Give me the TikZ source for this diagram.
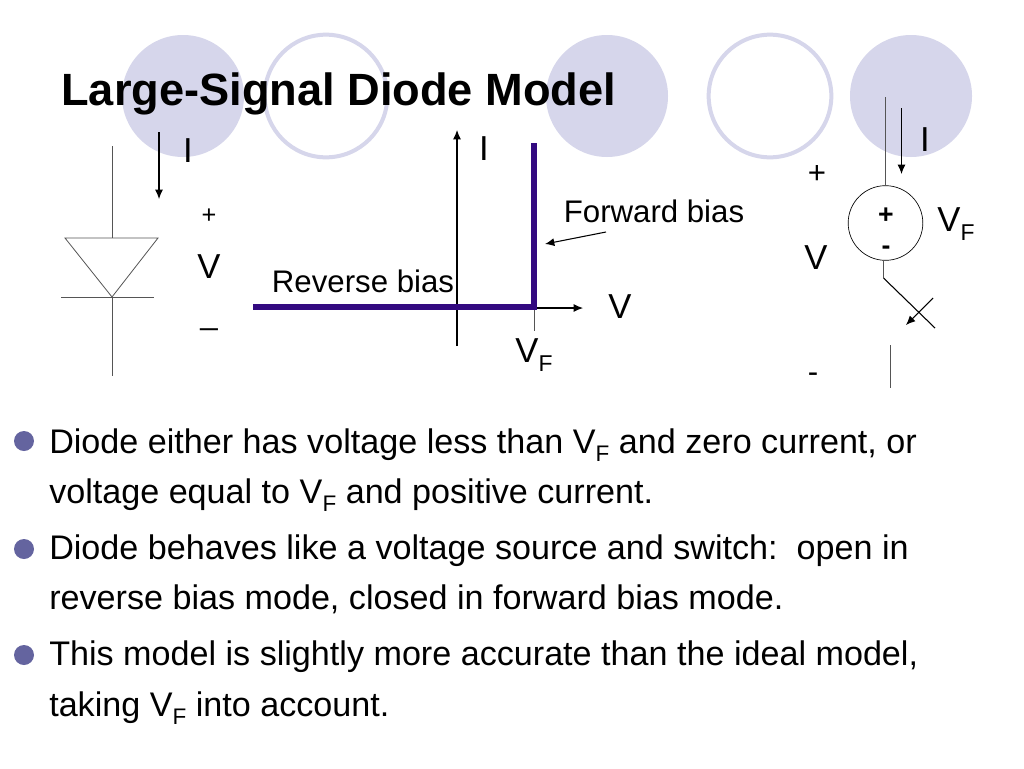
\documentclass[tikz,border=0pt]{standalone}
\usepackage{fontspec}
\setmainfont{Liberation Sans}
\usetikzlibrary{arrows.meta}
\definecolor{discfill}{HTML}{D6D6EB}
\definecolor{curvecol}{HTML}{330A80}
\definecolor{dotcol}{HTML}{64649F}
\definecolor{wirecol}{HTML}{555555}
\newcommand{\vfsub}{V\raisebox{-0.25em}{\fontsize{0.66em}{0.66em}\selectfont F}}
\tikzset{>={Latex[length=7pt,width=6pt]},
         disc/.style = {circle, fill=discfill, minimum size=91.5pt, inner sep=0pt},
         ring/.style = {circle, draw=discfill, line width=3pt, minimum size=92pt, inner sep=0pt},
         dot/.style = {circle, fill=dotcol, minimum size=15pt, inner sep=0pt},
         wire/.style = {wirecol, line width=0.6pt},
         blackwire/.style = {black, line width=0.8pt},
         sym/.style = {inner sep=0pt, font=\fontsize{26}{26}\selectfont},
         small/.style = {inner sep=0pt, font=\fontsize{23.4}{23.4}\selectfont},
         tiny/.style = {inner sep=0pt, font=\fontsize{19}{19}\selectfont},
         body/.style = {inner sep=0pt, anchor=base west, font=\fontsize{25.6}{25.6}\selectfont}}
\begin{document}
\begin{tikzpicture}[x=0.75pt, y=-0.75pt]
    \useasboundingbox [fill=white] (0, 0) rectangle (1024, 768);

    % background discs
    \node [disc] (discA) at (183, 96) {};
    \node [ring] (ringA) at (326, 96) {};
    \node [disc] (discB) at (607, 96) {};
    \node [ring] (ringB) at (770, 96) {};
    \node [disc] (discC) at (911, 96) {};

    \node [inner sep=0pt, anchor=base west, font=\fontsize{33.9}{33.9}\selectfont\bfseries] (title) at (61, 105) {Large-Signal Diode Model};

    % diode
    \coordinate (dTop) at (112, 146);
    \coordinate (dLeft) at (65, 238);
    \coordinate (dRight) at (158, 238);
    \coordinate (dMid) at (112, 238);
    \coordinate (dTip) at (112, 297);
    \coordinate (dBarL) at (61, 297);
    \coordinate (dBarR) at (154, 297);
    \coordinate (dEnd) at (112, 376);
    \draw [wire] (dTop) -- (dMid);
    \draw [wire] (dLeft) -- (dRight) -- (dTip) -- cycle;
    \draw [wire] (dBarL) -- (dBarR);
    \draw [wire] (dTip) -- (dEnd);
    \coordinate (dArrowA) at (159, 132);
    \coordinate (dArrowB) at (159, 199);
    \draw [->, blackwire] (dArrowA) -- (dArrowB);
    \node [sym] (dI) at (188, 151) {I};
    \node [tiny] (dPlus) at (209, 216) {+};
    \node [sym] (dV) at (209, 267) {V};
    \node [small] (dMinus) at (209, 328) {\_};

    % characteristic
    \coordinate (axisB) at (457, 346);
    \coordinate (axisT) at (457, 130);
    \coordinate (knee) at (534, 307);
    \coordinate (axisR) at (583, 308);
    \coordinate (tick) at (534, 331);
    \coordinate (curveL) at (253, 307);
    \coordinate (curveT) at (534, 143);
    \draw [->, blackwire] (axisB) -- (axisT);
    \draw [->, blackwire] (knee |- axisR) -- (axisR);
    \draw [wire] (knee) -- (tick);
    \draw [curvecol, line width=4.5pt, line cap=butt, line join=miter] (curveL) -- (knee) -- (curveT);
    \node [sym] (gI) at (484, 149) {I};
    \node [sym] (gV) at (620, 307) {V};
    \node [sym] (gVF) at (534, 355) {\vfsub};
    \node [small] (forward) at (654, 211) {Forward bias};
    \node [small] (reverse) at (363, 281) {Reverse bias};
    \coordinate (fArrowA) at (606, 232);
    \coordinate (fArrowB) at (545, 244);
    \draw [->, blackwire] (fArrowA) -- (fArrowB);

    % source and switch
    \node [circle, draw=black, line width=0.5pt, minimum size=56pt, inner sep=0pt] (source) at (885.5, 223) {};
    \coordinate (sTop) at (885.5, 97);
    \draw [wire] (sTop) -- (source);
    \coordinate (sArrowA) at (901.5, 108);
    \coordinate (sArrowB) at (901.5, 174);
    \draw [->, blackwire] (sArrowA) -- (sArrowB);
    \node [sym] (sI) at (925, 140) {I};
    \node [inner sep=0pt, font=\fontsize{20}{20}\selectfont\bfseries] (sPlus) at (886, 216) {+};
    \node [inner sep=0pt, font=\fontsize{20}{20}\selectfont\bfseries] (sMinus) at (886, 250) {-};
    \node [sym] (sVF) at (956, 224) {\vfsub};
    \coordinate (swA) at (883.5, 261);
    \coordinate (swB) at (883.5, 278);
    \coordinate (swC) at (935, 328);
    \draw [wire] (swA) -- (swB);
    \draw [blackwire] (swB) -- (swC);
    \coordinate (swArrowA) at (933, 298);
    \coordinate (swArrowB) at (906, 325);
    \draw [->, blackwire] (swArrowA) -- (swArrowB);
    \coordinate (swD) at (890.5, 345);
    \coordinate (swE) at (890.5, 388);
    \draw [wire] (swD) -- (swE);
    \node [small] (rPlus) at (817, 174) {+};
    \node [sym] (rV) at (816, 258) {V};
    \node [small] (rMinus) at (813, 378) {-};

    % bullets
    \node [dot] (dotA) at (24, 441) {};
    \node [body] (lineA) at (49, 453) {Diode either has voltage less than \vfsub{} and zero current, or};
    \node [body] (lineB) at (49, 503) {voltage equal to \vfsub{} and positive current.};
    \node [dot] (dotB) at (24, 549) {};
    \node [body] (lineC) at (49, 559.5) {Diode behaves like a voltage source and switch:\ \ open in};
    \node [body] (lineD) at (49, 609) {reverse bias mode, closed in forward bias mode.};
    \node [dot] (dotC) at (24, 655) {};
    \node [body] (lineE) at (49, 665.5) {This model is slightly more accurate than the ideal model,};
    \node [body] (lineF) at (49, 716) {taking \vfsub{} into account.};
\end{tikzpicture}
\end{document}
